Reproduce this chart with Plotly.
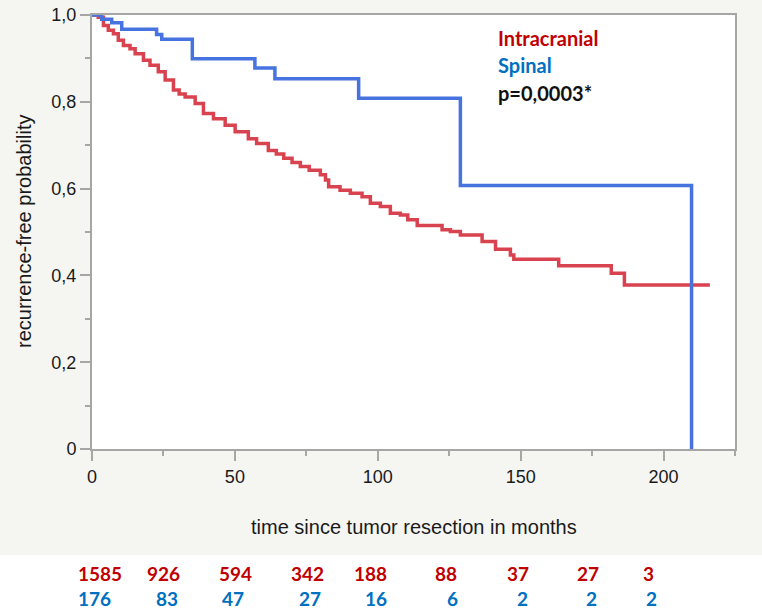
import plotly.graph_objects as go

# ---- data ----
intracranial_months = [0, 2.2, 4.0, 5.7, 7.5, 9.2, 11.0, 13.3, 15.1, 18.0,
                       20.3, 23.2, 25.6, 28.5, 30.5, 32.6, 36.1, 39.0, 42.5, 46.6,
                       50.1, 54.7, 57.6, 61.7, 64.5, 67.1, 70.0, 72.9, 76.0, 79.9,
                       81.7, 82.8, 86.8, 90.4, 94.5, 97.4, 100.9, 104.4, 107.9, 110.5,
                       113.8, 122.5, 125.4, 128.9, 136.5, 141.2, 146.4, 147.6, 163.3, 181.7,
                       186.3, 216.2]
intracranial_surv = [1.0, 0.995, 0.976, 0.965, 0.957, 0.942, 0.930, 0.922, 0.911, 0.896,
                     0.884, 0.869, 0.850, 0.827, 0.818, 0.811, 0.796, 0.773, 0.761, 0.746,
                     0.731, 0.715, 0.704, 0.688, 0.680, 0.670, 0.660, 0.651, 0.642, 0.632,
                     0.620, 0.604, 0.596, 0.589, 0.581, 0.566, 0.559, 0.543, 0.539, 0.528,
                     0.515, 0.505, 0.501, 0.493, 0.478, 0.460, 0.447, 0.437, 0.422, 0.405,
                     0.378, 0.378]

spinal_months = [0, 3.4, 6.9, 10.4, 22.6, 24.4, 35.1, 57.0, 64.0, 93.3, 128.9, 209.8]
spinal_surv = [1.0, 0.990, 0.982, 0.967, 0.955, 0.944, 0.899, 0.878, 0.853, 0.808, 0.607, 0.0]

at_risk_months_intra = [2.9, 25.1, 50.2, 75.5, 97.4, 124.0, 148.9, 173.6, 194.6]
at_risk_intra = ["1585", "926", "594", "342", "188", "88", "37", "27", "3"]
at_risk_months_spinal = [0.9, 26.3, 49.5, 76.4, 99.4, 126.0, 150.5, 174.8, 195.8]
at_risk_spinal = ["176", "83", "47", "27", "16", "6", "2", "2", "2"]

y_tickvals = [0, 0.2, 0.4, 0.6, 0.8, 1.0]
y_ticktext = ["0", "0,2", "0,4", "0,6", "0,8", "1,0"]
x_tickvals = [0, 50, 100, 150, 200]

# ---- styling ----
W, H = 762, 611
ML, MR, MT, MB = 92, 27, 15, 162
PH = H - MT - MB
RED_LINE = "#d9434f"
BLUE_LINE = "#4673e0"
RED_TXT = "#c00000"
BLUE_TXT = "#0070c0"
AXIS = "#a6a6a6"
BAND = "#f5f5f1"

def py(px):  # pixel row -> paper y
    return (H - MB - px) / PH

fig = go.Figure()
fig.add_trace(go.Scatter(x=intracranial_months, y=intracranial_surv, mode="lines",
                         line=dict(color=RED_LINE, width=3.5, shape="hv"),
                         name="Intracranial", showlegend=False))
fig.add_trace(go.Scatter(x=spinal_months, y=spinal_surv, mode="lines",
                         line=dict(color=BLUE_LINE, width=3.5, shape="hv"),
                         name="Spinal", showlegend=False))

ann = []
ann.append(dict(text="Intracranial", x=141.2, y=0.947, xref="x", yref="y", xanchor="left",
                yanchor="middle", showarrow=False,
                font=dict(family="Lato", size=20, color=RED_TXT, weight="bold")))
ann.append(dict(text="Spinal", x=141.2, y=0.885, xref="x", yref="y", xanchor="left",
                yanchor="middle", showarrow=False,
                font=dict(family="Lato", size=20, color=BLUE_TXT, weight="bold")))
ann.append(dict(text="p=0,0003*", x=141.2, y=0.820, xref="x", yref="y", xanchor="left",
                yanchor="middle", showarrow=False,
                font=dict(family="Lato", size=20, color="#111111", weight="bold")))
ann.append(dict(text="time since tumor resection in months", x=0.5, y=py(527),
                xref="paper", yref="paper", xanchor="center", yanchor="middle", showarrow=False,
                font=dict(family="Liberation Sans", size=20, color="#1a1a1a")))
ann.append(dict(text="recurrence-free probability", x=(24 - ML) / (W - ML - MR), y=0.5,
                xref="paper", yref="paper", xanchor="center", yanchor="middle", showarrow=False,
                textangle=-90, font=dict(family="Liberation Sans", size=20, color="#1a1a1a")))
for m, t in zip(at_risk_months_intra, at_risk_intra):
    ann.append(dict(text=t, x=m, y=py(573), xref="x", yref="paper", xanchor="center",
                    yanchor="middle", showarrow=False,
                    font=dict(family="Lato", size=19, color=RED_TXT, weight="bold")))
for m, t in zip(at_risk_months_spinal, at_risk_spinal):
    ann.append(dict(text=t, x=m, y=py(610.5), xref="x", yref="paper", xanchor="center",
                    yanchor="bottom", showarrow=False, borderpad=0,
                    font=dict(family="Lato", size=19, color=BLUE_TXT, weight="bold")))

shapes = [dict(type="rect", xref="paper", yref="paper",
               x0=-ML / (W - ML - MR) - 0.05, x1=1 + MR / (W - ML - MR) + 0.05,
               y0=py(H) - 0.05, y1=py(555), fillcolor="white", line=dict(width=0),
               layer="below")]

fig.update_layout(
    width=W, height=H,
    margin=dict(l=ML, r=MR, t=MT, b=MB, pad=0, autoexpand=False),
    paper_bgcolor=BAND, plot_bgcolor="white",
    annotations=ann, shapes=shapes, showlegend=False,
    xaxis=dict(range=[0, 225], tickmode="array", tickvals=x_tickvals, automargin=False,
               ticks="outside", ticklen=10, tickwidth=2, tickcolor=AXIS,
               showline=True, linecolor=AXIS, linewidth=2, mirror=True,
               showgrid=False, zeroline=False,
               tickfont=dict(family="Liberation Sans", size=18, color="#1a1a1a"),
               minor=dict(tickmode="linear", tick0=0, dtick=25, ticks="outside",
                          ticklen=5, tickwidth=2, tickcolor=AXIS, showgrid=False)),
    yaxis=dict(range=[0, 1], tickmode="array", tickvals=y_tickvals, ticktext=y_ticktext,
               automargin=False,
               ticks="outside", ticklen=10, tickwidth=2, tickcolor=AXIS,
               showline=True, linecolor=AXIS, linewidth=2, mirror=True,
               showgrid=False, zeroline=False,
               tickfont=dict(family="Liberation Sans", size=18, color="#1a1a1a"),
               minor=dict(tickmode="linear", tick0=0, dtick=0.1, ticks="outside",
                          ticklen=5, tickwidth=2, tickcolor=AXIS, showgrid=False)),
)

fig.write_html("out.html")
